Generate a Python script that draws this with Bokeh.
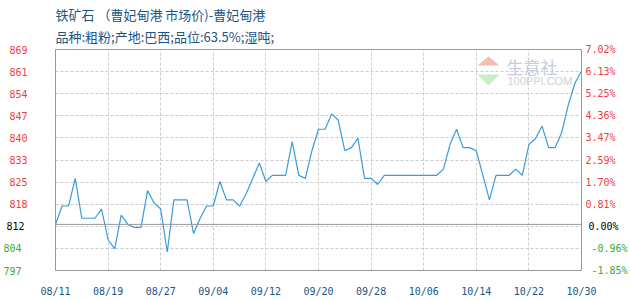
import pandas as pd
from bokeh.plotting import figure
from bokeh.models import (FixedTicker, Range1d, Span, Label, Title,
                          LinearAxis, PolyAnnotation)
from bokeh.embed import file_html
from bokeh.resources import INLINE

# ---------------- data ----------------
start_date = "2022-08-11"
prices = [812, 818, 818, 827, 814, 814, 814, 817, 807, 804,
          815, 812, 811, 811, 823, 819, 817, 803, 820, 820,
          820, 809, 814, 818, 818, 826, 820, 820, 818, 822,
          827, 832, 826, 828, 828, 828, 839, 828, 827, 836,
          843, 843, 848, 846, 836, 837, 840, 827, 827, 825,
          828, 828, 828, 828, 828, 828, 828, 828, 828, 830,
          838, 843, 837, 837, 836, 828, 820, 828, 828, 828,
          830, 828, 838, 840, 844, 837, 837, 842, 851, 858,
          862]
base_price = 812
y_ticks = [796.98, 804.18, 811.38, 818.58, 825.78, 832.98,
           840.18, 847.38, 854.58, 861.78, 868.98]
y_tick_labels = ["797", "804", "812", "818", "825", "833",
                 "840", "847", "854", "861", "869"]
pct_tick_labels = ["-1.85%", "-0.96%", "0.00%", "0.81%", "1.70%", "2.59%",
                   "3.47%", "4.36%", "5.25%", "6.13%", "7.02%"]
x_tick_labels = ["08/11", "08/19", "08/27", "09/04", "09/12", "09/20",
                 "09/28", "10/06", "10/14", "10/22", "10/30"]
title_line1 = "铁矿石 （曹妃甸港 市场价)-曹妃甸港"
title_line2 = "品种:粗粉;产地:巴西;品位:63.5%;湿吨;"

dates = pd.date_range(start_date, periods=len(prices), freq="D")
x_tick_dates = pd.date_range(start_date, periods=len(x_tick_labels), freq="8D")
x_tick_ms = [float(t.value // 10**6) for t in x_tick_dates]

# ---------------- styles ----------------
RED = "#f03c3c"
GREEN = "#3aaa35"
BLACK = "#000000"
BLUE_TXT = "#1b5584"
LINE = "#3a9bdc"
MONO = "DejaVu Sans Mono"
CJK = "Noto Sans CJK SC"

def label_color(pct):
    if pct.startswith("-"):
        return GREEN
    if pct.startswith("0.00"):
        return BLACK
    return RED

colors = [label_color(s) for s in pct_tick_labels]

y_lo, y_hi = y_ticks[0], y_ticks[-1]
p = figure(width=630, height=300, x_axis_type="datetime",
           output_backend="svg", toolbar_location=None,
           x_range=Range1d(dates[0], dates[-1]),
           y_range=Range1d(y_lo, y_hi),
           min_border_left=50, min_border_right=49,
           min_border_top=49, min_border_bottom=30)
p.background_fill_color = "white"
p.border_fill_color = "white"
p.outline_line_color = "#999999"
p.outline_line_width = 1

# titles
p.title.text = title_line1
p.title.text_font = CJK
p.title.text_font_size = "13px"
p.title.text_font_style = "normal"
p.title.text_color = BLUE_TXT
p.title.align = "left"
try:
    p.title.standoff = -6
except Exception:
    p.title.standoff = 0
sub = Title(text=title_line2, text_font=CJK, text_font_size="13px",
            text_font_style="normal", text_color=BLUE_TXT, align="left",
            standoff=8)
p.add_layout(sub, "above")

# grids
p.xgrid.ticker = FixedTicker(ticks=x_tick_ms)
p.ygrid.ticker = FixedTicker(ticks=y_ticks)
for g in (p.xgrid, p.ygrid):
    g.grid_line_color = "#cccccc"
    g.grid_line_dash = "3 2"
    g.grid_line_width = 1

def style_axis(ax, color, standoff):
    ax.major_label_text_font = MONO
    ax.major_label_text_font_size = "10px"
    ax.major_label_text_font_style = "normal"
    ax.major_label_text_color = color
    ax.major_label_standoff = standoff
    ax.axis_line_color = None
    ax.major_tick_line_color = None
    ax.minor_tick_line_color = None
    ax.major_tick_out = 0
    ax.major_tick_in = 0
    ax.minor_tick_out = 0
    ax.minor_tick_in = 0

# x axis
xa = p.xaxis[0]
xa.ticker = FixedTicker(ticks=x_tick_ms)
xa.major_label_overrides = {t: s for t, s in zip(x_tick_ms, x_tick_labels)}
style_axis(xa, BLUE_TXT, 15)

# y axes: one per label colour (stacked; outer ones pulled back onto the
# same label column), left = price, right = percent change
left_standoff = {RED: 28, BLACK: -18, GREEN: -18}
right_standoff = {RED: 4, BLACK: -30, GREEN: -30}
for col in (RED, BLACK, GREEN):
    idx = [i for i, c in enumerate(colors) if c == col]
    ticks = [y_ticks[i] for i in idx]
    if col == RED:
        la = p.yaxis[0]
        la.ticker = FixedTicker(ticks=ticks)
    else:
        la = LinearAxis(ticker=FixedTicker(ticks=ticks))
        p.add_layout(la, "left")
    la.major_label_overrides = {y_ticks[i]: y_tick_labels[i] for i in idx}
    style_axis(la, col, left_standoff[col])
    ra = LinearAxis(ticker=FixedTicker(ticks=ticks))
    ra.major_label_overrides = {y_ticks[i]: pct_tick_labels[i] for i in idx}
    style_axis(ra, col, right_standoff[col])
    p.add_layout(ra, "right")

# watermark
p.add_layout(PolyAnnotation(xs=[422, 444, 433], ys=[205, 205, 214],
                            xs_units="screen", ys_units="screen",
                            fill_color="#f5bdb5", fill_alpha=1,
                            line_color=None))
p.add_layout(PolyAnnotation(xs=[422, 444, 433], ys=[196, 196, 185],
                            xs_units="screen", ys_units="screen",
                            fill_color="#c8eec8", fill_alpha=1,
                            line_color=None))
p.add_layout(Label(x=451, y=204.5, x_units="screen", y_units="screen",
                   text="生意社", text_font=CJK, text_font_size="17px",
                   text_baseline="middle", text_color="#c6cce2"))
p.add_layout(Label(x=452, y=189.5, x_units="screen", y_units="screen",
                   text="100PPI.COM", text_font="Liberation Sans",
                   text_font_size="11px", text_baseline="middle",
                   text_color="#cfcfcf"))

# base line
p.add_layout(Span(location=base_price, dimension="width",
                  line_color="#999999", line_width=1))

# price line
p.line(dates, prices, line_color=LINE, line_width=1.2)

open("out.html", "w").write(file_html(p, INLINE))
